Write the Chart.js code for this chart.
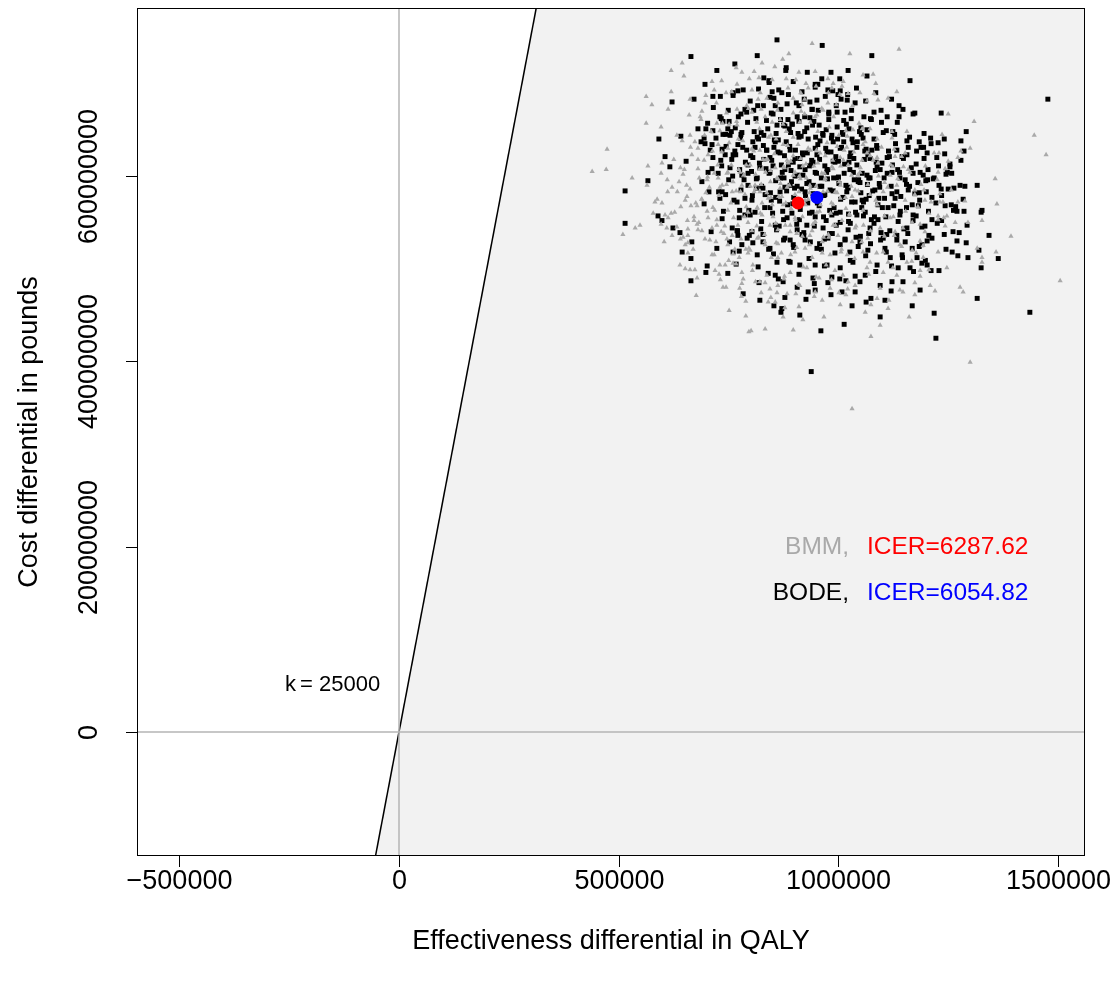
<!DOCTYPE html>
<html><head><meta charset="utf-8">
<script src="https://cdn.jsdelivr.net/npm/chart.js@4.4.1/dist/chart.umd.min.js"></script>
<style>html,body{margin:0;padding:0;background:#fff}canvas{display:block}</style>
</head><body>
<canvas id="c" width="1113" height="985"></canvas>
<script>
// Effectiveness differential (thousands of QALY) and cost differential (millions of pounds)
const bmmEffectK = [620,645,649,620,563,576,613,563,597,474,713,718,697,663,661,686,690,768,770,633,645,663,724,752,731,674,681,667,626,599,704,727,749,
941,888,1027,1139,809,820,904,927,989,1057,1080,932,986,1009,1023,898,1082,1134,1114,1091,1066,977,996,818,863,918,966,952,916,825,804,834,875,850,913,948,1034,1055,1073,1123,1089,1123,1157,847,882,1002,975,875,909,1057,1128,1130,1153,1014,932,822,959,1066,1089,884,834,1005,
1251,1310,1237,1447,1474,1301,1219,1230,1280,1273,1251,
440,472,531,565,567,597,622,638,647,656,652,588,599,642,665,679,672,579,606,613,549,538,510,610,633,622,658,658,679,681,647,604,652,658,658,640,652,663,674,679,697,683,690,681,702,699,715,704,724,713,734,722,749,731,720,729,743,768,781,784,781,738,761,775,795,759,772,795,749,759,781,736,727,749,777,
806,838,891,929,982,1021,1066,1103,1134,1157,1103,1141,1148,1119,1089,1103,1134,1119,1050,1005,966,989,1027,989,936,891,845,816,822,861,898,936,952,875,816,1057,1011,957,
1228,1244,1358,1189,1196,1232,1198,1232,1239,1273,1289,1362,1182,1207,1228,1248,1228,1267,1296,1328,1244,1394,1187,1194,1317,1228,1360,1178,1194,1328,1328,1248,1187,1207,1187,1506,1210,1278,1175,
677,752,790,790,797,
825,847,861,884,904,841,857,879,875,911,920,968,948,1002,1018,802,834,898,1062,1075,1089,1116,1114,1148,1162,1096,1075,1032,
1221,1285,1175,1301,
800,827,857,886,920,954,986,1023,1055,1091,1125,1160,788,811,841,868,902,925,970,1005,1039,1073,1153,1175,795,827,863,902,925,964,1000,1039,1068,1096,1130,1169,800,834,863,902,941,973,1032,1073,1114,1169,1198,822,863,913,982,1039,1096,1141,1005,964,
612,628,641,655,664,672,681,689,696,703,708,714,719,726,731,737,742,747,752,756,761,765,770,774,778,783,787,791,796,800,804,808,812,816,821,825,829,833,838,842,846,850,855,859,863,868,872,876,880,885,889,893,898,902,906,911,915,919,924,928,932,937,941,945,950,954,958,963,967,971,976,980,985,989,994,998,1003,1007,1012,1017,1021,1026,1031,1036,1041,1046,1051,1057,1062,1068,1074,1080,1086,1092,1099,1106,1113,1120,1128,1136,1145,1154,1164,1175,1187,1199,1212,1226,1241,1258,
812,823,835,847,858,869,881,892,903,914,926,937,948,960,971,983,994,1006,1018,1030,
688,699,711,723,735,746,758,769,781,792,804,815,827,838,850,862,874,886,898,911,924,937,950,963,977,990,1004,1018,1033,1048,
718,732,747,761,776,790,805,819,834,848,863,877,892,906,921,935,950,964,979,993,1008,1023,1038,1054,1070,1088,1106,1125,1145,1168,
583,597,611,620,634,641,650,657,663,670,676,684,690,695,702,707,713,718,724,729,735,740,746,751,757,762,768,773,779,785,791,797,803,809,815,821,827,833,840,846,852,859,865,871,878,884,891,898,905,912,919,927,935,943,951,960,969,978,988,998,1009,1020,1032,1045,1058,1073,1089,1106,1126,1149,
745,770,798,823,856,882,915,948,978,1012,1050,1086,
745,780,812,845,878,910,946,985,1022];
const bmmCostM = [714,722,708,691,686,677,672,657,653,629,702,693,679,683,666,664,670,717,699,644,638,644,657,656,649,637,630,623,618,614,623,634,630,
743,732,732,737,713,706,704,700,700,709,710,695,695,697,689,684,689,691,684,682,681,679,677,683,679,677,671,666,670,672,669,664,656,658,658,664,650,651,651,648,640,641,648,644,648,644,636,634,634,634,629,621,625,628,630,628,625,625,620,617,617,620,
667,659,645,644,623,630,625,625,627,620,616,
605,607,598,590,611,603,588,594,602,578,574,575,571,567,568,568,556,560,558,555,547,544,537,544,545,536,543,536,548,542,534,529,526,528,517,504,500,499,499,490,532,550,575,608,596,582,566,555,553,544,540,529,526,504,498,494,504,505,496,489,484,480,516,512,517,536,547,561,563,583,590,590,598,604,604,
504,493,496,501,515,515,501,496,493,507,518,526,544,555,569,583,590,601,604,590,583,569,558,547,536,540,547,566,583,598,601,590,561,569,533,518,493,490,
604,608,597,591,585,581,574,572,572,572,573,570,567,560,557,557,553,550,550,552,546,535,530,525,522,518,518,517,512,512,507,501,498,499,492,487,482,480,485,
471,455,465,449,432,
474,469,474,473,473,464,464,458,448,459,445,448,475,474,472,433,435,434,453,461,468,466,457,475,448,439,427,349,
476,475,472,399,
612,607,609,614,611,614,610,612,617,614,610,607,580,590,576,587,580,574,596,576,585,580,574,585,550,558,542,555,522,529,536,544,533,544,540,550,520,526,512,518,512,504,529,507,507,520,540,486,482,482,479,482,479,477,461,466,
583,561,609,590,631,552,618,575,644,599,531,627,563,612,588,657,546,603,636,571,594,521,655,607,583,638,556,612,673,589,541,627,602,565,651,591,618,537,582,642,606,569,624,528,597,661,578,610,547,633,590,565,642,604,523,583,619,556,667,598,575,628,541,611,589,648,562,603,534,622,584,653,571,608,547,632,594,518,617,577,643,559,601,626,546,584,609,563,637,591,541,617,574,600,631,557,588,612,536,597,621,562,604,580,548,611,572,596,555,585,
586,560,604,577,549,592,571,616,553,597,569,587,551,574,598,560,583,611,565,589,
661,687,648,679,703,668,691,659,712,676,693,658,722,684,704,671,726,695,668,712,683,658,697,673,705,664,688,649,676,657,
515,488,532,506,479,521,498,534,485,512,527,489,515,538,502,526,491,517,534,498,521,486,511,529,494,517,535,501,524,508,
572,548,596,560,583,532,607,552,586,521,571,598,541,617,562,588,515,603,547,579,626,538,591,509,612,555,584,640,532,601,567,522,629,583,546,607,571,529,618,594,556,640,578,517,609,588,547,622,571,600,535,613,582,548,628,569,603,537,617,582,552,631,578,601,547,622,569,593,556,610,
690,672,705,690,718,705,690,713,690,702,690,700,
480,470,486,478,492,483,470,488,478];
const bodeEffectK = [665,765,724,697,715,761,772,672,622,731,734,779,788,681,699,715,749,779,642,592,695,688,697,713,754,772,736,606,654,715,743,761,
861,964,816,1077,882,984,1023,1066,831,843,1164,948,954,850,872,845,977,1005,1000,952,1021,1039,923,911,857,941,998,1016,1139,1082,1059,1112,1139,1171,852,936,886,895,879,998,1025,973,1066,1125,909,831,816,966,1011,932,1057,1032,1157,959,989,857,811,838,891,1089,1134,1043,1005,948,975,868,920,1068,1157,806,845,1027,1112,943,989,898,
1478,1235,1175,1196,1292,1185,1189,1212,1228,1242,1280,1203,1287,1280,1255,
515,515,567,617,590,599,624,640,667,645,665,665,702,699,749,761,775,768,724,711,713,704,690,706,695,731,736,754,781,736,759,772,781,793,775,788,795,770,
820,875,907,943,986,1018,1050,1096,1123,1148,1164,1146,1169,1134,1157,1114,1160,1171,1123,1073,1027,975,913,845,816,829,868,845,884,929,966,1005,1043,1073,1103,1050,1005,952,898,845,816,861,913,975,1034,1089,1119,
1205,1194,1255,1246,1219,1200,1182,1230,1235,1264,1289,1317,1185,1214,1285,1244,1258,1271,1287,1328,1326,1178,1226,1294,1198,1207,1242,1276,1344,1203,1271,1292,1191,1321,1260,1273,1296,1365,1180,1191,1203,1212,1326,
784,
932,948,879,927,984,1009,854,870,872,913,1032,1064,1075,1121,1169,1096,1014,961,939,
1317,1219,1437,1223,
795,822,879,902,948,1000,1046,1096,1141,804,834,891,925,970,1023,1055,1084,1130,1169,800,857,907,941,986,1023,1062,1091,1141,804,829,879,925,977,1027,1068,1107,1153,857,891,948,1005,1062,1137,1187,822,977,1039,1107,
728,735,739,744,751,753,758,763,766,771,776,779,783,788,792,795,798,801,805,809,811,814,817,821,824,826,830,833,836,840,842,846,849,851,855,858,860,863,867,869,873,876,879,882,885,887,891,894,896,899,902,906,908,911,914,917,919,922,925,929,931,934,937,940,943,945,948,951,954,957,959,962,965,968,970,973,976,979,981,984,987,989,993,996,999,1002,1005,1008,1011,1014,1016,1019,1022,1025,1028,1031,1034,1037,1040,1043,1046,1049,1052,1055,1058,1061,1064,1067,1070,1073,1076,1079,1082,1085,1088,1091,1094,1097,1100,1103,1106,1109,1112,1115,1118,1121,1124,1127,1131,1134,1137,1140,1143,1146,1150,1153,1156,1160,1163,1167,1171,1175,1179,1183,1187,1191,1196,1201,1206,1211,1217,1223,1229,1236,1243,1251,1259,1268,
852,858,864,869,874,878,883,889,893,897,903,907,912,916,920,926,930,935,939,944,949,953,958,962,967,972,977,982,986,991,995,1001,1006,1010,1015,1020,1024,1029,1035,1039,1044,1050,1054,1060,1066,1071,1077,1083,1089,1095,1101,
703,709,716,722,727,732,738,745,750,757,761,767,773,778,784,789,794,800,806,813,819,825,830,837,843,848,854,859,865,870,876,881,887,892,898,905,911,918,924,930,936,942,948,955,963,971,979,988,996,1004,1013,1022,1031,1042,1052,1063,1074,1086,1098,1110,1122,1135,1148,
806,818,829,841,853,864,876,888,899,911,922,934,946,958,969,981,993,1004,1016,1028,1039,1051,1063,1074,1086,1098,1110,1122,1134,1147,1159,1172,1185,1199,1214,1230,1246,1262,
781,786,792,797,803,808,814,819,826,831,837,843,848,854,861,866,871,877,884,890,895,901,907,913,918,924,929,935,941,946,952,957,963,969,974,979,985,990,996,1001,1007,1013,1018,1024,1030,1036,1041,1047,1053,1058,1064,1070,1076,1082,1087,1093,1099,1105,1111,1117,1123,1129,1136,1142,1149,1156,1163,1171,1178,1186,1195,1204,1214,1225,1236,1249,1263,1278,
760,744,733,770,752,765,738,776];
const bodeCostM = [729,721,714,699,686,690,692,683,680,664,662,667,672,651,651,649,651,645,643,640,641,637,635,634,644,634,629,621,616,620,623,623,
747,741,730,730,717,712,714,708,706,703,703,699,699,691,690,685,693,692,688,682,682,679,683,676,676,672,669,669,676,669,664,664,664,667,667,663,661,656,654,653,651,650,650,648,646,644,642,644,645,640,641,640,638,638,637,637,631,628,628,630,628,631,630,630,626,625,623,623,623,620,620,621,620,615,616,615,
683,668,668,646,648,637,631,635,636,640,638,625,627,617,613,
584,549,595,610,557,552,544,539,529,518,511,487,503,496,495,518,519,505,522,540,608,604,594,583,570,576,583,609,601,554,544,536,526,533,555,576,590,572,
485,486,480,490,491,487,486,482,486,486,501,515,522,536,544,566,585,603,604,598,607,607,610,604,598,587,583,566,555,547,544,550,558,544,533,529,526,522,526,522,515,507,504,504,507,504,512,
607,601,610,602,598,595,593,590,586,587,589,590,582,577,575,568,569,562,562,563,561,557,549,547,546,536,537,539,536,530,530,528,526,520,518,514,512,511,512,506,504,498,501,
473,
475,477,469,467,472,475,460,453,457,450,460,464,468,476,460,448,440,433,389,
468,452,453,425,
612,609,607,600,604,598,594,607,598,574,580,590,583,580,587,574,585,576,569,558,547,542,561,558,542,561,553,558,540,529,533,531,533,518,520,522,529,493,507,504,501,493,501,477,466,485,475,466,
583,611,562,645,596,529,618,574,652,541,607,585,631,558,669,603,536,622,579,648,561,597,676,614,543,589,633,566,608,651,521,582,617,560,639,595,542,626,573,661,604,553,588,637,569,612,531,594,656,577,619,548,601,642,564,586,625,539,607,652,571,594,529,617,581,659,556,603,634,568,589,521,646,579,611,552,597,669,563,626,538,584,615,547,640,592,561,631,577,603,532,656,588,615,549,572,636,596,561,612,524,648,582,603,557,627,575,591,538,619,661,584,549,606,633,569,592,531,614,647,576,556,603,627,541,589,612,568,635,583,551,604,578,621,543,596,566,631,589,609,552,581,627,568,604,545,619,583,562,641,597,571,611,552,624,586,603,567,
611,577,639,598,562,622,584,651,606,570,628,589,553,643,601,579,625,560,612,590,642,571,618,598,556,630,607,585,644,566,621,599,575,647,613,583,559,625,604,572,637,593,566,618,601,579,628,556,610,588,566,
657,628,674,641,603,686,659,632,671,648,687,623,664,641,693,615,658,681,637,662,694,647,676,628,701,668,684,646,693,672,655,714,688,647,702,679,659,691,664,712,680,655,696,671,705,686,661,692,676,705,660,688,671,695,652,681,662,690,671,649,683,658,672,
528,502,537,495,516,489,531,508,523,494,536,511,484,527,503,538,517,489,531,509,492,535,514,527,497,539,518,503,531,512,538,497,524,509,533,498,521,540,
647,596,628,563,605,671,587,640,551,618,660,603,574,631,655,546,612,598,678,632,560,587,664,619,537,648,592,611,672,546,623,655,589,532,604,667,641,598,560,616,683,637,590,551,662,619,534,596,645,572,629,598,553,640,615,576,658,598,537,621,581,645,607,562,619,591,642,558,613,574,631,596,553,620,579,604,563,590,
600,580,617,541,659,627,645,563];
// Mean points: [BMM, BODE]
const meanEffect = [909000, 952000];
const meanCost = [571000000, 577000000];
const icerLabels = ['ICER=6287.62', 'ICER=6054.82'];
const seriesNames = ['BMM,', 'BODE,'];
const thresholdParts = ['k', '=', '25000'];
const thresholdSlope = 2500; // slope of the drawn line, as plotted
const xTicks = [-500000, 0, 500000, 1000000, 1500000];
const xTickLabels = ['\u2212500000', '0', '500000', '1000000', '1500000'];
const yTicks = [0, 200000000, 400000000, 600000000];
const yTickLabels = ['0', '200000000', '400000000', '600000000'];
const xRange = [-596800, 1562600];
const yRange = [-133800000, 781400000];

const toPts = (ek, cm) => ek.map((e, i) => ({x: e * 1000, y: cm[i] * 1e6}));
const FONT = '"Liberation Sans", Arial, Helvetica, sans-serif';

const shadePlugin = {
  id: 'shade',
  beforeDatasetsDraw(chart) {
    const {ctx, scales: {x, y}} = chart;
    const poly = [
      [yRange[1] / thresholdSlope, yRange[1]],
      [xRange[1], yRange[1]],
      [xRange[1], yRange[0]],
      [yRange[0] / thresholdSlope, yRange[0]]
    ];
    ctx.save();
    ctx.fillStyle = '#f2f2f2';
    ctx.beginPath();
    poly.forEach((p, i) => {
      const px = x.getPixelForValue(p[0]), py = y.getPixelForValue(p[1]);
      if (i === 0) ctx.moveTo(px, py); else ctx.lineTo(px, py);
    });
    ctx.closePath();
    ctx.fill();
    ctx.restore();
  }
};

const axesPlugin = {
  id: 'axesText',
  afterDraw(chart) {
    const {ctx, chartArea: a, scales: {x, y}} = chart;
    ctx.save();
    ctx.strokeStyle = '#000';
    ctx.lineWidth = 1;
    ctx.strokeRect(Math.round(a.left) + 0.5, Math.round(a.top) + 0.5, Math.round(a.right - a.left) - 1, Math.round(a.bottom - a.top) - 1);
    ctx.fillStyle = '#000';
    ctx.font = '27px ' + FONT;
    ctx.textAlign = 'center';
    ctx.textBaseline = 'middle';
    xTicks.forEach((v, i) => {
      const px = Math.round(x.getPixelForValue(v)) + 0.5;
      ctx.beginPath(); ctx.moveTo(px, a.bottom); ctx.lineTo(px, a.bottom + 11); ctx.stroke();
      ctx.fillText(xTickLabels[i], px, a.bottom + 26);
    });
    yTicks.forEach((v, i) => {
      const py = Math.round(y.getPixelForValue(v)) + 0.5;
      ctx.beginPath(); ctx.moveTo(a.left, py); ctx.lineTo(a.left - 11, py); ctx.stroke();
      ctx.save();
      ctx.translate(a.left - 47, py);
      ctx.rotate(-Math.PI / 2);
      ctx.fillText(yTickLabels[i], 0, 0);
      ctx.restore();
    });
    ctx.fillText('Effectiveness differential in QALY', (a.left + a.right) / 2, 942);
    ctx.save();
    ctx.translate(30, (a.top + a.bottom) / 2);
    ctx.rotate(-Math.PI / 2);
    ctx.fillText('Cost differential in pounds', 0, 0);
    ctx.restore();
    ctx.font = '22px ' + FONT;
    ctx.textAlign = 'left';
    const kx = [285, 300, 319];
    thresholdParts.forEach((t, i) => ctx.fillText(t, kx[i], 685));
    ctx.font = '24.5px ' + FONT;
    const rows = [547, 593];
    const nameColors = ['#a9a9a9', '#000000'];
    const icerColors = ['#ff0000', '#0000ff'];
    rows.forEach((ry, i) => {
      ctx.textAlign = 'right';
      ctx.fillStyle = nameColors[i];
      ctx.fillText(seriesNames[i], 849, ry);
      ctx.textAlign = 'left';
      ctx.fillStyle = icerColors[i];
      ctx.fillText(icerLabels[i], 867, ry);
    });
    ctx.restore();
  }
};

new Chart(document.getElementById('c'), {
  type: 'scatter',
  data: {
    datasets: [
      {label: 'BMM mean', data: [{x: meanEffect[0], y: meanCost[0]}], pointStyle: 'circle', pointRadius: 6.5, backgroundColor: '#ff0000', borderWidth: 0, order: 0},
      {label: 'BODE mean', data: [{x: meanEffect[1], y: meanCost[1]}], pointStyle: 'circle', pointRadius: 6.5, backgroundColor: '#0000ff', borderWidth: 0, order: 0},
      {label: 'BMM', data: toPts(bmmEffectK, bmmCostM), pointStyle: 'triangle', pointRadius: 3, backgroundColor: '#a9a9a9', borderWidth: 0, order: 1},
      {label: 'BODE', data: toPts(bodeEffectK, bodeCostM), pointStyle: 'rect', pointRadius: 3.5, backgroundColor: '#000000', borderWidth: 0, order: 2},
      {label: 'v0', data: [{x: 0, y: yRange[0]}, {x: 0, y: yRange[1]}], showLine: true, pointRadius: 0, borderColor: '#b4b4b4', borderWidth: 1.5, order: 3},
      {label: 'h0', data: [{x: xRange[0], y: 0}, {x: xRange[1], y: 0}], showLine: true, pointRadius: 0, borderColor: '#b4b4b4', borderWidth: 1.5, order: 3},
      {label: 'k', data: [{x: yRange[0] / thresholdSlope, y: yRange[0]}, {x: yRange[1] / thresholdSlope, y: yRange[1]}], showLine: true, pointRadius: 0, borderColor: '#000000', borderWidth: 1.5, order: 3}
    ]
  },
  options: {
    responsive: false, animation: false, devicePixelRatio: 1, events: [],
    layout: {padding: {left: 137, right: 28, top: 8, bottom: 129}},
    plugins: {legend: {display: false}, tooltip: {enabled: false}},
    scales: {
      x: {type: 'linear', display: false, min: xRange[0], max: xRange[1]},
      y: {type: 'linear', display: false, min: yRange[0], max: yRange[1]}
    }
  },
  plugins: [shadePlugin, axesPlugin]
});
</script>
</body></html>
